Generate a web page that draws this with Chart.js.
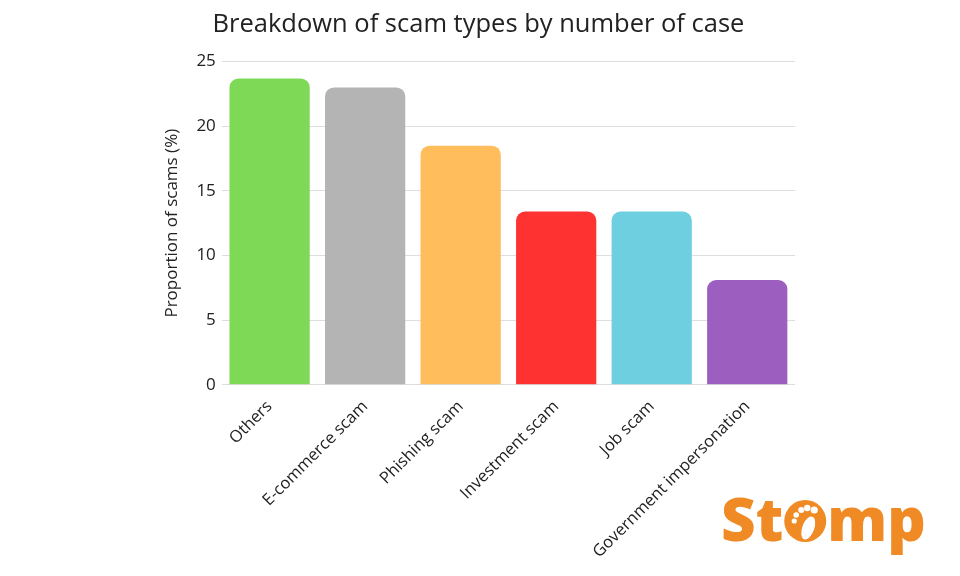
<!DOCTYPE html>
<html>
<head>
<meta charset="utf-8">
<script src="https://cdn.jsdelivr.net/npm/chart.js@4"></script>
<style>
  html, body { margin: 0; padding: 0; background: #fff; }
  #wrap { width: 960px; height: 576px; }
</style>
</head>
<body>
<div id="wrap"><canvas id="chart"></canvas></div>
<script>
const categories = ['Others', 'E-commerce scam', 'Phishing scam', 'Investment scam', 'Job scam', 'Government impersonation'];
const proportions = [23.7, 23.0, 18.5, 13.4, 13.4, 8.1];
const barColors = ['#7ed957', '#b4b4b4', '#ffbd5c', '#ff3232', '#6ecfe0', '#9c5fc0'];
const yTicks = [0, 5, 10, 15, 20, 25];

// Stomp logo in the bottom right corner
const stompLogo = {
    id: 'stompLogo',
    afterDraw: (chart) => {
        const ctx = chart.ctx;
        const orange = '#f08a24';
        ctx.save();
        ctx.fillStyle = orange;
        ctx.font = '800 60px "Open Sans"';
        ctx.textBaseline = 'alphabetic';
        ctx.textAlign = 'left';
        const baseY = 541;
        let x = 721;
        ctx.fillText('St', x, baseY);
        x += ctx.measureText('St').width + 1;
        // footprint "o"
        const r = 21;
        const cx = x + r, cy = baseY - 20;
        ctx.beginPath();
        ctx.arc(cx, cy, r, 0, Math.PI * 2);
        ctx.fill();
        ctx.fillStyle = '#fff';
        ctx.beginPath();
        ctx.ellipse(cx + 3, cy + 7, 6, 12, 0.35, 0, Math.PI * 2);
        ctx.fill();
        const toes = [[-11, 0, 2.6], [-9, -6, 2.8], [-4, -11, 3], [2, -13, 3.2], [9, -11, 3.6]];
        toes.forEach(([dx, dy, tr]) => {
            ctx.beginPath();
            ctx.arc(cx + dx, cy + dy, tr, 0, Math.PI * 2);
            ctx.fill();
        });
        ctx.fillStyle = orange;
        x += 2 * r + 1;
        ctx.fillText('mp', x, baseY);
        ctx.restore();
    }
};

new Chart(document.getElementById('chart'), {
    type: 'bar',
    data: {
        labels: categories,
        datasets: [{
            label: 'Proportion of scams (%)',
            data: proportions,
            backgroundColor: barColors,
            borderRadius: { topLeft: 9, topRight: 9, bottomLeft: 0, bottomRight: 0 },
            borderSkipped: 'bottom',
            categoryPercentage: 1,
            barPercentage: 0.84
        }]
    },
    options: {
        responsive: true,
        maintainAspectRatio: false,
        animation: false,
        layout: {
            padding: { top: 9, right: 165, bottom: 10, left: 162 }
        },
        scales: {
            x: {
                grid: { display: false },
                border: { display: false },
                ticks: {
                    color: '#222',
                    font: { family: 'Open Sans', size: 16.5 },
                    maxRotation: 45,
                    minRotation: 45,
                    padding: 4
                }
            },
            y: {
                min: 0,
                max: 25,
                afterBuildTicks: (axis) => {
                    axis.ticks = yTicks.map(v => ({ value: v }));
                },
                grid: { color: '#dddddd', lineWidth: 1, drawTicks: false },
                border: { display: false },
                ticks: {
                    color: '#222',
                    font: { family: 'Open Sans', size: 17 },
                    padding: 6
                },
                title: {
                    display: true,
                    text: 'Proportion of scams (%)',
                    color: '#222',
                    font: { family: 'Open Sans', size: 17 },
                    padding: { top: 0, bottom: 8 }
                }
            }
        },
        plugins: {
            legend: { display: false },
            tooltip: { enabled: false },
            title: {
                display: true,
                text: 'Breakdown of scam types by number of case',
                color: '#222',
                font: { family: 'Open Sans', size: 25.5, weight: 'normal' },
                padding: { top: 0, bottom: 22 }
            }
        }
    },
    plugins: [stompLogo]
});
</script>
</body>
</html>
